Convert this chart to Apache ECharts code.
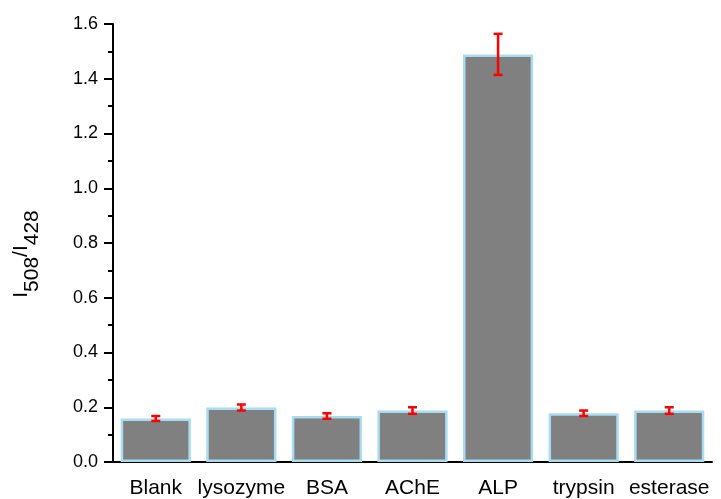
<!DOCTYPE html>
<html><head><meta charset="utf-8">
<script src="https://cdn.jsdelivr.net/npm/echarts@6/dist/echarts.min.js"></script>
<style>html,body{margin:0;padding:0;background:#fff}#c{width:721px;height:499px}</style>
</head><body><div id="c"></div>
<script>
var categories = ['Blank','lysozyme','BSA','AChE','ALP','trypsin','esterase'];
var values = [0.159, 0.199, 0.168, 0.188, 1.489, 0.178, 0.188];
var errors = [0.009, 0.011, 0.010, 0.012, 0.075, 0.010, 0.012];
var yTicks = [0, 0.2, 0.4, 0.6, 0.8, 1.0, 1.2, 1.4, 1.6];

var chart = echarts.init(document.getElementById('c'));
var errData = categories.map(function(c,i){return [i, values[i]-errors[i], values[i]+errors[i]];});
var font = 'Liberation Sans, Arial, sans-serif';
chart.setOption({
  animation:false,
  backgroundColor:'#ffffff',
  grid:{left:113,right:9,top:24,bottom:36,containLabel:false},
  xAxis:{type:'category',data:categories,
    axisLine:{lineStyle:{color:'#000',width:2}},
    axisTick:{show:false},
    axisLabel:{color:'#000',fontSize:21,fontFamily:font,margin:16,interval:0}},
  yAxis:{type:'value',min:0,max:1.6,interval:0.2,
    name:'{m|I}{s|508}{m|/I}{s|428}',nameLocation:'middle',nameGap:70,nameRotate:90,
    nameTextStyle:{padding:[0,22,0,0],rich:{m:{fontSize:21,fontFamily:font,color:'#000'},s:{fontSize:21,fontFamily:font,color:'#000',padding:[22,0,0,0]}}},
    axisLine:{show:true,lineStyle:{color:'#000',width:2}},
    axisTick:{show:true,inside:false,length:9,lineStyle:{color:'#000',width:2}},
    minorTick:{show:true,splitNumber:2,length:5,lineStyle:{color:'#000',width:2}},
    splitLine:{show:false},
    axisLabel:{color:'#000',fontSize:18,fontFamily:font,margin:15,
      formatter:function(v){return v.toFixed(1);}}},
  series:[
    {type:'bar',data:values,barCategoryGap:'18%',
      itemStyle:{color:'#808080',borderColor:'#a8dcf0',borderWidth:2.5}},
    {type:'custom',data:errData,z:10,
      renderItem:function(params,api){
        var x=api.value(0);
        var lo=api.coord([x,api.value(1)]);
        var hi=api.coord([x,api.value(2)]);
        var hw=4.5;
        var st={stroke:'#ff0000',lineWidth:2.5};
        return {type:'group',children:[
          {type:'line',shape:{x1:lo[0],y1:lo[1],x2:hi[0],y2:hi[1]},style:st},
          {type:'line',shape:{x1:lo[0]-hw,y1:lo[1],x2:lo[0]+hw,y2:lo[1]},style:st},
          {type:'line',shape:{x1:hi[0]-hw,y1:hi[1],x2:hi[0]+hw,y2:hi[1]},style:st}
        ]};
      }}
  ]
});
</script></body></html>
